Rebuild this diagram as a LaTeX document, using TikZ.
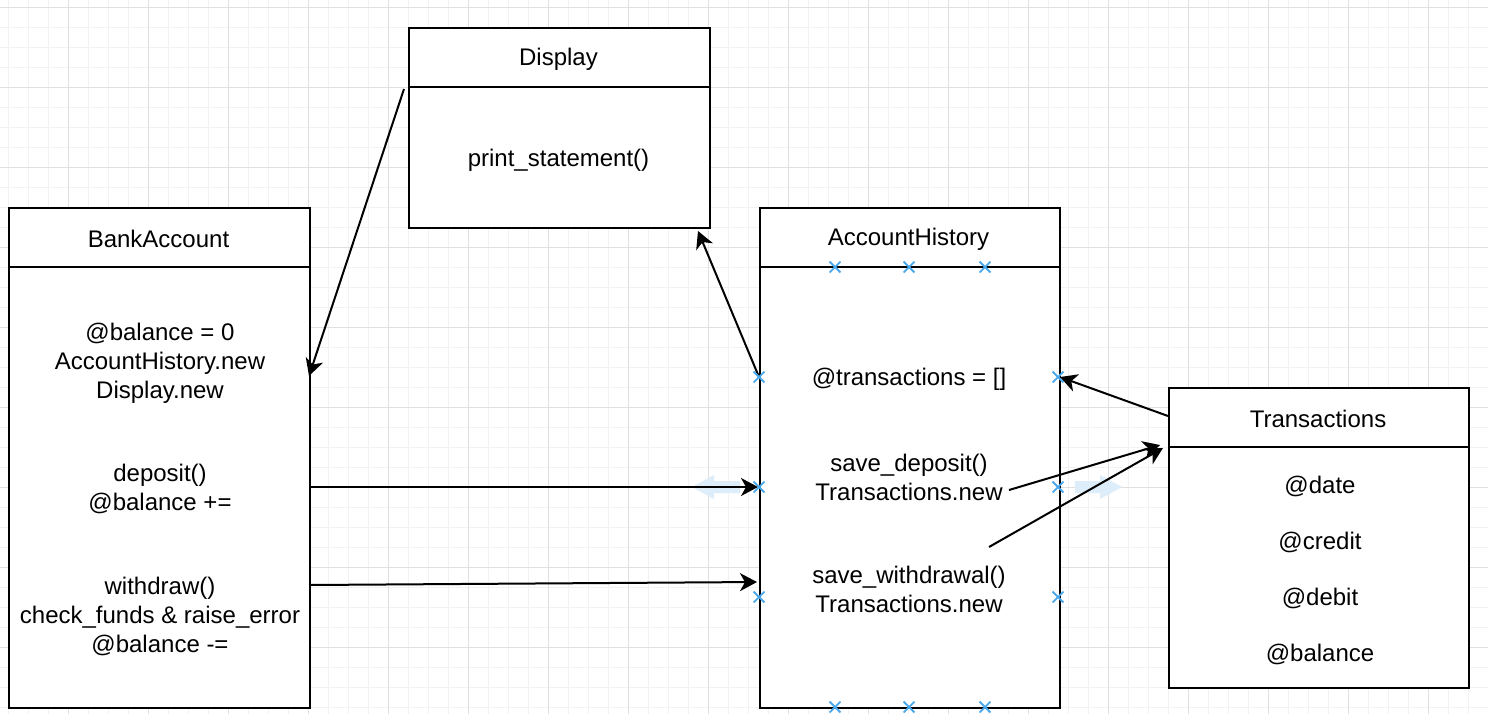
\documentclass[tikz,border=0pt]{standalone}
\usepackage{fontspec}
\setmainfont{Liberation Sans}
\usetikzlibrary{arrows.meta,shapes.misc}
\definecolor{gridminor}{HTML}{F2F2F2}
\definecolor{gridmajor}{HTML}{E0E0E0}
\definecolor{markblue}{HTML}{4AA8EC}
\definecolor{hintblue}{HTML}{DDEEFA}
\begin{document}
\begin{tikzpicture}[x=0.5pt,y=-0.5pt,
  box/.style={draw=black, line width=1pt, fill=white, anchor=north west, inner sep=0pt},
  lbl/.style={font=\fontsize{12}{14.5}\selectfont, align=center, inner sep=0pt, yshift=-1pt},
  conn/.style={line width=1pt, -{Stealth[length=8.5pt,width=9pt,inset=2.5pt]}},
  bluemark/.style={cross out, draw=markblue, line width=0.9pt, minimum size=4.5pt, inner sep=0pt},
  hint/.style={fill=hintblue, draw=none}]
\useasboundingbox (0,0) rectangle (1488,714);
\fill[white] (0,0) rectangle (1488,714);
% grid
\foreach \x in {8,28,...,1488} \draw[gridminor, line width=0.5pt] (\x,0) -- (\x,714);
\foreach \y in {7,27,...,714} \draw[gridminor, line width=0.5pt] (0,\y) -- (1488,\y);
\foreach \x in {68,148,...,1488} \draw[gridmajor, line width=0.5pt] (\x,0) -- (\x,714);
\foreach \y in {7,87,...,714} \draw[gridmajor, line width=0.5pt] (0,\y) -- (1488,\y);

% boxes
\node[box, minimum width=150.5pt, minimum height=100pt] (disp) at (408,27) {};
\draw[line width=1pt] ([yshift=-30pt]disp.north west) -- ([yshift=-30pt]disp.north east);
\node[box, minimum width=150.5pt, minimum height=250pt] (ba) at (8,207) {};
\draw[line width=1pt] ([yshift=-30pt]ba.north west) -- ([yshift=-30pt]ba.north east);
\node[box, minimum width=150pt, minimum height=250pt] (ah) at (758.5,207) {};
\draw[line width=1pt] ([yshift=-30pt]ah.north west) -- ([yshift=-30pt]ah.north east);
\node[box, minimum width=150pt, minimum height=150pt] (tr) at (1168,387) {};
\draw[line width=1pt] ([yshift=-30pt]tr.north west) -- ([yshift=-30pt]tr.north east);

% faint hint arrows
\fill[hint] (692,487) -- (714,475) -- (714,481) -- (740,481) -- (740,493) -- (714,493) -- (714,499) -- cycle;
\fill[hint] (1122,487) -- (1100,475) -- (1100,481) -- (1075,481) -- (1075,493) -- (1100,493) -- (1100,499) -- cycle;

% texts
\node[lbl] (dispT) at (558.5,57) {Display};
\node[lbl] (dispM) at (558.5,158) {print\_statement()};
\node[lbl] (baT) at (158.5,237) {BankAccount};
\node[lbl] (baA) at (160,361) {@balance = 0\\AccountHistory.new\\Display.new};
\node[lbl] (baD) at (160,486.5) {deposit()\\@balance +=};
\node[lbl] (baW) at (160,614) {withdraw()\\check\_funds \& raise\_error\\@balance -=};
\node[lbl] (ahT) at (908.5,237) {AccountHistory};
\node[lbl] (ahA) at (909,377) {@transactions = []};
\node[lbl] (ahD) at (909,475) {save\_deposit()\\Transactions.new};
\node[lbl] (ahW) at (909,587) {save\_withdrawal()\\Transactions.new};
\node[lbl] (trT) at (1318,417) {Transactions};
\node[lbl] (trA) at (1320,484) {@date};
\node[lbl] (trB) at (1320,540) {@credit};
\node[lbl] (trC) at (1320,596) {@debit};
\node[lbl] (trD) at (1320,652) {@balance};

% connector end points
\coordinate (p1s) at (404,89);
\coordinate (p1e) at (309,376);
\coordinate (p2s) at (759,377);
\coordinate (p2e) at (698,231);
\coordinate (p3s) at (1168,416);
\coordinate (p3e) at (1060,377);
\coordinate (p4s) at (309,487);
\coordinate (p4e) at (758,487);
\coordinate (p5s) at (309,585);
\coordinate (p5e) at (757,582);
\coordinate (p6s) at (1009,490);
\coordinate (p6e) at (1160,445);
\coordinate (p7s) at (989,547);
\coordinate (p7e) at (1163,448);

\draw[conn] (p1s) -- (p1e);
\draw[conn] (p2s) -- (p2e);
\draw[conn] (p3s) -- (p3e);
\draw[conn] (p4s) -- (p4e);
\draw[conn] (p5s) -- (p5e);
\draw[conn] (p6s) -- (p6e);
\draw[conn] (p7s) -- (p7e);

% connection point markers
\node[bluemark] (m1) at (835,267) {};
\node[bluemark] (m2) at (909,267) {};
\node[bluemark] (m3) at (985,267) {};
\node[bluemark] (m4) at (759,377) {};
\node[bluemark] (m5) at (1058,377) {};
\node[bluemark] (m6) at (759,487) {};
\node[bluemark] (m7) at (1058,487) {};
\node[bluemark] (m8) at (759,597) {};
\node[bluemark] (m9) at (1058,597) {};
\node[bluemark] (m10) at (835,707) {};
\node[bluemark] (m11) at (909,707) {};
\node[bluemark] (m12) at (985,707) {};
\end{tikzpicture}
\end{document}
